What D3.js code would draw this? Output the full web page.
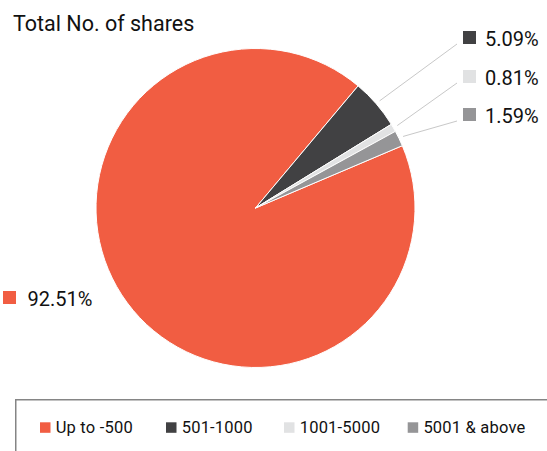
<!DOCTYPE html>
<html>
<head>
<meta charset="utf-8">
<script src="https://cdn.jsdelivr.net/npm/d3@7"></script>
<style>
  html, body { margin: 0; padding: 0; background: #fff; overflow: hidden; }
  text { font-family: Roboto, "Open Sans", sans-serif; fill: #111; }
</style>
</head>
<body>
<script>
const categories = ["Up to -500", "501-1000", "1001-5000", "5001 & above"];
const shares = [92.51, 5.09, 0.81, 1.59];
const labels = ["92.51%", "5.09%", "0.81%", "1.59%"];
const colors = ["#f15d42", "#414143", "#e1e2e3", "#959597"];

const width = 547, height = 451;
const cx = 255.5, cy = 208, radius = 159.5;

const svg = d3.select("body").append("svg")
    .attr("width", width)
    .attr("height", height);

svg.append("text")
    .attr("x", 13)
    .attr("y", 31)
    .style("font-size", "21.5px")
    .text("Total No. of shares");

const items = categories.map((c, i) => ({name: c, value: shares[i], label: labels[i], color: colors[i]}));

// pie starts so the small slices sit at top right
const pie = d3.pie()
    .sort(null)
    .value((d) => d.value)
    .startAngle(67 * Math.PI / 180)
    .endAngle(67 * Math.PI / 180 + 2 * Math.PI);

const arcs = pie(items);
const arc = d3.arc().innerRadius(0).outerRadius(radius);
const outer = d3.arc().innerRadius(radius + 4.5).outerRadius(radius + 4.5);

const g = svg.append("g").attr("transform", "translate(" + cx + "," + cy + ")");

g.selectAll("path.slice")
    .data(arcs)
    .enter().append("path")
    .attr("class", "slice")
    .attr("d", arc)
    .attr("fill", (d) => d.data.color)
    .attr("stroke", "#fff")
    .attr("stroke-width", 1);

// labels for the small slices on the right, big one on the left
const labelTop = [291, 31, 70, 108];
const labelLeft = [3, 463, 463, 463];
const sw = 13;

arcs.forEach((d, i) => {
    const lx = labelLeft[i], ly = labelTop[i];
    if (i > 0) {
        const p = outer.centroid(d);
        svg.append("line")
            .attr("x1", cx + p[0])
            .attr("y1", cy + p[1])
            .attr("x2", lx - 6)
            .attr("y2", ly + sw)
            .attr("stroke", "#c8c8c8")
            .attr("stroke-width", 1);
    }
    svg.append("rect")
        .attr("x", lx)
        .attr("y", ly)
        .attr("width", sw)
        .attr("height", sw)
        .attr("fill", d.data.color);
    svg.append("text")
        .attr("x", lx + (i > 0 ? 22 : 24.5))
        .attr("y", ly + sw + 1.5)
        .style("font-size", "20px")
        .text(d.data.label);
});

// legend box, runs off the right and bottom edges
svg.append("path")
    .attr("d", "M15.75," + (height + 5) + "V399.75H" + (width + 5))
    .attr("fill", "none")
    .attr("stroke", "#858585")
    .attr("stroke-width", 1.5);

const legendX = [40, 166, 284, 407.7];
const legend = svg.selectAll("g.legend")
    .data(items)
    .enter().append("g")
    .attr("class", "legend")
    .attr("transform", (d, i) => "translate(" + legendX[i] + ",422.3)");

legend.append("rect")
    .attr("width", 10.5)
    .attr("height", 10.5)
    .attr("fill", (d) => d.color);

legend.append("text")
    .attr("x", 15.7)
    .attr("y", 10.5)
    .style("font-size", "16.5px")
    .style("letter-spacing", "0.2px")
    .text((d) => d.name);
</script>
</body>
</html>
